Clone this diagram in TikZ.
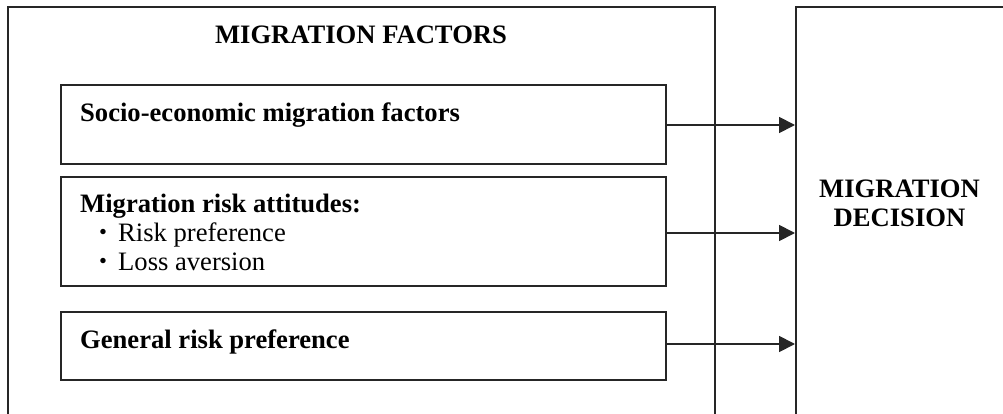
\documentclass[tikz,border=0pt]{standalone}
\usepackage{fontspec}
\usepackage{graphicx}
\setmainfont{Liberation Serif}
\usetikzlibrary{arrows.meta}
\newcommand{\itemdot}{\makebox[19pt][l]{\raisebox{1.5pt}{\scalebox{0.85}{\textbullet}}}}
\begin{document}
\begin{tikzpicture}[x=1pt,y=-1pt,
  frame/.style={draw=black!85,line width=1.8pt,inner sep=0pt},
  title/.style={font=\fontsize{26.6}{29}\selectfont\bfseries,inner sep=0pt},
  body/.style={font=\fontsize{26.6}{29}\selectfont,inner sep=0pt,anchor=base west},
  bodybold/.style={body,font=\fontsize{26.6}{29}\selectfont\bfseries},
  link/.style={draw=black!85,line width=1.8pt,-{Triangle[length=16pt,width=16pt]}}]
\useasboundingbox (0,0) rectangle (1003,414);
\clip (0,0) rectangle (1003,414);
% outer frames (running past the page edge)
\node[frame,minimum width=707pt,minimum height=440pt,anchor=north west] (factors) at (7,6) {};
\node[frame,minimum width=240pt,minimum height=440pt,anchor=north west] (decision) at (795,6) {};
% factor boxes
\node[frame,minimum width=605pt,minimum height=79pt,anchor=north west] (socio) at (60,84) {};
\node[frame,minimum width=605pt,minimum height=109pt,anchor=north west] (attitude) at (60,176) {};
\node[frame,minimum width=605pt,minimum height=68pt,anchor=north west] (general) at (60,311) {};
% titles (base anchor of the two-line title sits on its last line)
\node[title,anchor=base] (ftitle) at (361,44) {MIGRATION FACTORS};
\node[title,align=center,anchor=base] (dtitle) at (899.5,226) {MIGRATION\\DECISION};
% box texts
\node[bodybold] (sociotext) at (80,122) {Socio-economic migration factors};
\node[bodybold] (atttext) at (80,212) {Migration risk attitudes:};
\node[body] (bul1) at (99,241) {\itemdot Risk preference};
\node[body] (bul2) at (99,270) {\itemdot Loss aversion};
\node[bodybold] (gentext) at (80,348) {General risk preference};
% connectors
\coordinate (d1) at (decision.west |- 0,125);
\coordinate (d2) at (decision.west |- 0,233);
\coordinate (d3) at (decision.west |- 0,344);
\draw[link] (socio.east |- d1) -- (d1);
\draw[link] (attitude.east |- d2) -- (d2);
\draw[link] (general.east |- d3) -- (d3);
\end{tikzpicture}
\end{document}
